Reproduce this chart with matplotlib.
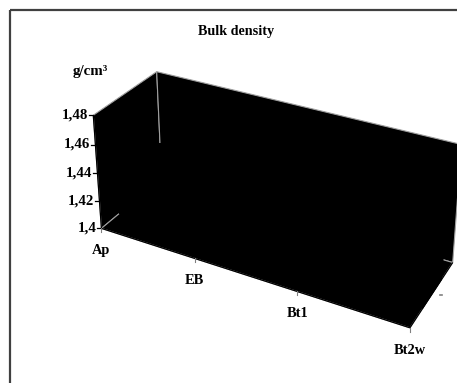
import numpy as np
import matplotlib
matplotlib.use("Agg")
import matplotlib.pyplot as plt
from matplotlib.patches import Polygon, Rectangle

# data (3D area chart, bulk density per horizon)
horizons = ['Ap', 'EB', 'Bt1', 'Bt2w']
bulk_density = [1.435, 1.46, 1.45, 1.47]
y_ticks = [1.40, 1.42, 1.44, 1.46, 1.48]
y_labels = ['1,4', '1,42', '1,44', '1,46', '1,48']
y_min, y_max = 1.40, 1.48

# view: perspective camera (category, value 0-1, depth 0-1) -> pixels
P = np.array([[84.8276, -12.3134, 72.9768, 101.424],
              [18.7504, -118.29, -35.9228, 228.37],
              [-0.043911, -0.0447785, 0.0791317, 1.0]])
gap = 0.28  # depth gap in front of / behind the area

def proj(x, val, z):
    yn = (val - y_min) / (y_max - y_min)
    h = P @ np.array([x, yn, z, 1.0])
    return h[0] / h[2], h[1] / h[2]

def face(pts, **kw):
    ax.add_patch(Polygon([proj(*p) for p in pts], closed=True, **kw))

def line(p1, p2, **kw):
    a, b = proj(*p1), proj(*p2)
    ax.plot([a[0], b[0]], [a[1], b[1]], solid_capstyle='butt', **kw)

fig = plt.figure(figsize=(4.57, 3.83), dpi=100)
ax = fig.add_axes([0, 0, 1, 1])
ax.set_xlim(0, 457)
ax.set_ylim(383, 0)
ax.axis('off')

# chart area frame
ax.add_patch(Rectangle((9.5, 9.5), 480, 400, fill=False, ec='#404040', lw=1.6))

n = len(horizons) - 1
wall = dict(fc='black', ec='#a0a0a0', lw=0.8)
face([(0, y_min, 0), (0, y_max, 0), (0, y_max, 1), (0, y_min, 1)], **wall)   # side wall
face([(0, y_min, 1), (0, y_max, 1), (n, y_max, 1), (n, y_min, 1)], **wall)   # back wall
face([(0, y_min, 0), (n, y_min, 0), (n, y_min, 1), (0, y_min, 1)], **wall)   # floor

# area series as a black slab
area = dict(fc='black', ec='black', lw=0.6)
xs = range(len(horizons))
for z in (gap, 1 - gap):
    face([(0, y_min, z), (n, y_min, z)] + [(i, v, z) for i, v in reversed(list(zip(xs, bulk_density)))], **area)
for i in range(n):
    face([(i, bulk_density[i], gap), (i + 1, bulk_density[i + 1], gap),
          (i + 1, bulk_density[i + 1], 1 - gap), (i, bulk_density[i], 1 - gap)], **area)
for i in (0, n):
    face([(i, y_min, gap), (i, bulk_density[i], gap),
          (i, bulk_density[i], 1 - gap), (i, y_min, 1 - gap)], **area)

# axis lines
line((0, y_min, 0), (0, y_max, 0), color='black', lw=0.9)
line((0, y_min, 0), (n, y_min, 0), color='black', lw=0.9)
line((n, y_min, 0), (n, y_min, 1), color='black', lw=0.9)

serif = ['Liberation Serif', 'DejaVu Serif']

# value axis ticks and labels
for v, lab in zip(y_ticks, y_labels):
    px, py = proj(0, v, 0)
    ax.plot([px - 4.5, px], [py, py], color='black', lw=0.9)
    ax.text(px - 5, py, lab, ha='right', va='center', fontsize=10.7,
            fontweight='bold', family=serif)

# category ticks and labels
for i, lab in enumerate(horizons):
    px, py = proj(i, y_min, 0)
    ax.plot([px, px], [py, py + 4], color='#808080', lw=0.8)
    ax.text(px, py + 26, lab, ha='center', va='baseline', fontsize=10.4,
            fontweight='bold', family=serif)

# series axis tick
px, py = proj(n, y_min, 0.5)
ax.plot([px + 7.5, px + 9.5], [py + 1, py + 1], color='#808080', lw=1.2)

ax.text(236, 31, 'Bulk density', ha='center', va='center', fontsize=10.2,
        fontweight='bold', family=serif)
ax.text(90, 72, 'g/cm³', ha='center', va='center', fontsize=10.8,
        fontweight='bold', family=serif)

fig.savefig('out.png')
